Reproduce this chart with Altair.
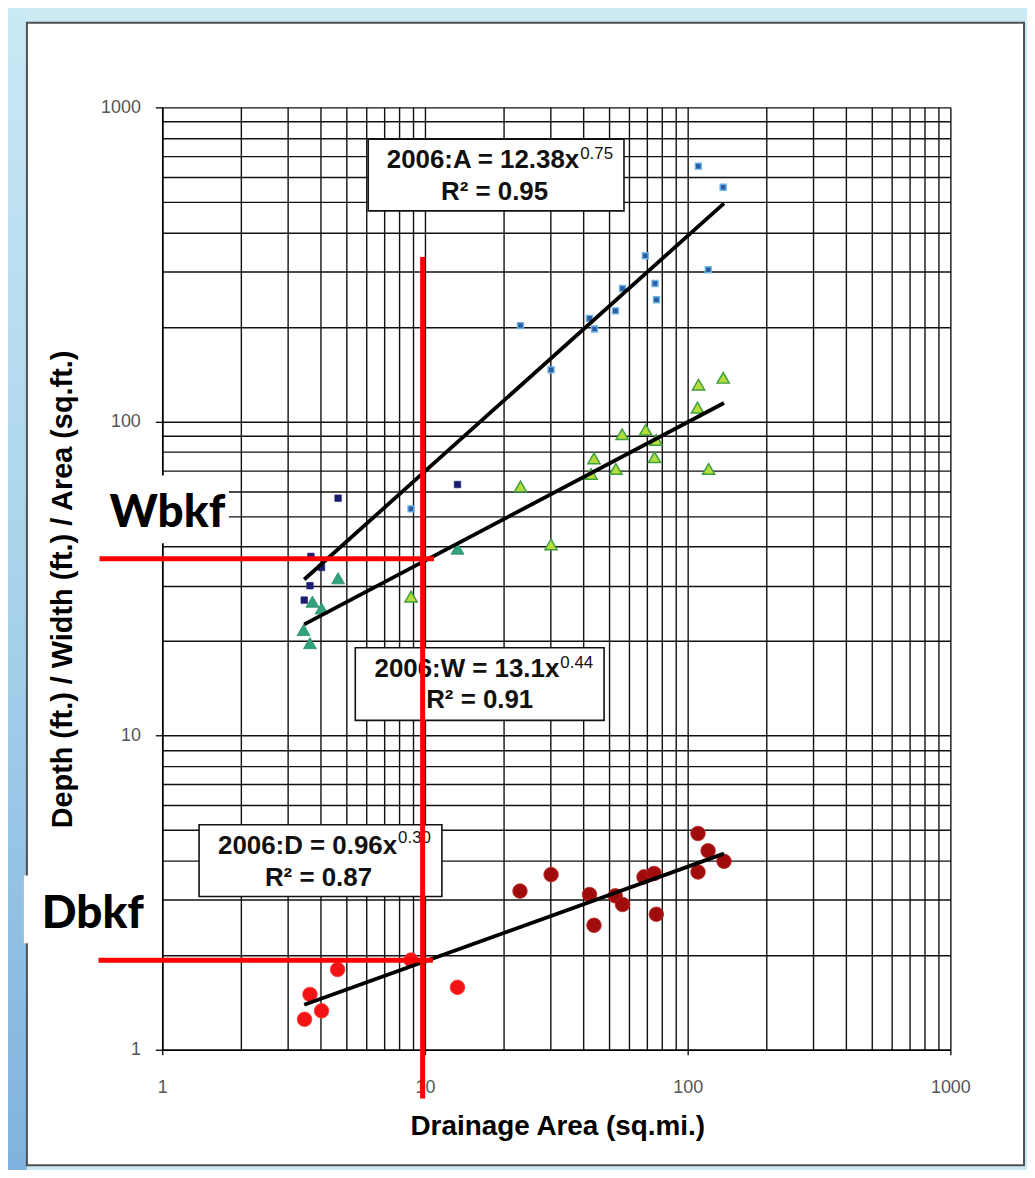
import altair as alt
import pandas as pd

# ---------------- data ----------------
grid_vals = [1, 2, 3, 4, 5, 6, 7, 8, 9, 10, 20, 30, 40, 50, 60, 70, 80, 90,
             100, 200, 300, 400, 500, 600, 700, 800, 900, 1000]

# Area (sq.ft.) - squares
area_g1_x = [3.47, 3.65, 3.68, 4.04, 4.67, 13.3]
area_g1_y = [27.0, 30.0, 37.2, 34.3, 57.0, 63.0]
area_g2_x = [8.85, 23.1, 30.2, 42.3, 44.2, 53.1, 56.5, 69.0, 75.1, 76.1, 109.8, 119.8, 136.5]
area_g2_y = [52.7, 202, 146, 213, 197, 225, 265, 337, 275, 244, 650, 304, 557]

# Width (ft.) - triangles
width_g1_x = [3.45, 3.65, 3.73, 4.04, 4.67, 13.3]
width_g1_y = [21.7, 19.7, 26.7, 25.4, 31.7, 39.4]
width_g2_x = [8.85, 23.1, 30.2, 42.9, 44.0, 53.3, 56.3, 69.2, 74.8, 75.9, 109.0, 110.0, 120.2, 136.5]
width_g2_y = [27.7, 62.1, 40.6, 68.1, 76.3, 70.6, 91.1, 94.1, 76.9, 87.3, 110.7, 131, 70.6, 137.7]

# Depth (ft.) - circles
depth_g1_x = [3.48, 3.65, 4.04, 4.65, 8.85, 13.3]
depth_g1_y = [1.25, 1.50, 1.33, 1.80, 1.93, 1.58]
depth_g2_x = [23.0, 30.2, 42.3, 44.0, 53.0, 56.5, 68.2, 74.5, 76.0, 109.5, 109.5, 119.6, 137.5]
depth_g2_y = [3.20, 3.61, 3.12, 2.49, 3.09, 2.90, 3.55, 3.64, 2.70, 4.88, 3.68, 4.30, 3.98]

# power-law trend lines (end points)
trend_x = [3.47, 137.5]
area_fit = [31.4, 495]
width_fit = [22.6, 114.5]
depth_fit = [1.39, 4.21]

# equation boxes
eq_main = ["2006:A = 12.38x", "2006:W = 13.1x", "2006:D = 0.96x"]
eq_exp = ["0.75", "0.44", "0.30"]
r2_text = ["R² = 0.95", "R² = 0.91", "R² = 0.87"]
eq_anchor_x = [38.65, 32.46, 7.832]
eq_base_y = [641.0, 15.41, 4.208]
eq_exp_y = [684.3, 16.46, 4.560]
r2_x = [18.41, 16.16, 3.933]
r2_y = [507.5, 12.21, 3.332]
box_x = [6.082, 5.430, 1.381]
box_x2 = [57.23, 48.06, 11.60]
box_y = [468.4, 11.18, 3.074]
box_y2 = [791.7, 19.05, 5.200]

# red reading lines (at drainage area ~10 sq.mi.)
red_x = [0.577, 0.572, 9.8]
red_x2 = [10.82, 10.72, 9.8]
red_y = [36.59, 1.928, 0.6994]
red_y2 = [36.59, 1.928, 333.7]

# Wbkf / Dbkf labels
lab_text = ["Wbkf", "Dbkf"]
lab_x = [0.6302, 0.3479]
lab_y = [46.04, 2.435]
lab_bx = [0.577, 0.2975]
lab_bx2 = [1.7935, 0.949]
lab_by = [40.97, 2.183]
lab_by2 = [67.28, 3.584]

# page decoration (frame and blue margins), in data units
frame_x, frame_x2, frame_y, frame_y2 = 0.3054, 1907, 0.429, 1859

# ---------------- scales / axes ----------------
FONT = "Liberation Sans"
major_test = "indexof([1,10,100,1000], datum.value) >= 0"
xs = alt.Scale(type="log", domain=[1, 1000], nice=False)
ys = alt.Scale(type="log", domain=[1, 1000], nice=False)

common_axis = dict(
    values=grid_vals, grid=True, gridColor="#111111", gridWidth=1.4,
    domain=True, domainColor="#000000", domainWidth=1.6,
    ticks=True, tickWidth=1.3,
    tickColor={"condition": {"test": major_test, "value": "#000000"}, "value": "transparent"},
    labelExpr=f"{major_test} ? '' + datum.value : ''",
    labelFont=FONT, labelFontSize=18, labelColor="#555555",
    labelOverlap=False, labelFlush=False, labelBound=False,
    titleFont=FONT, titleFontWeight="bold", titleColor="#000000",
    titleBaseline="alphabetic", titleAlign="center",
)
xaxis = alt.Axis(title="Drainage Area (sq.mi.)", tickSize=5, labelPadding=38,
                 labelBaseline="alphabetic", titleFontSize=28, titleX=397, titleY=85,
                 **common_axis)
yaxis = alt.Axis(title="Depth (ft.) / Width (ft.) / Area (sq.ft.)", tickSize=7,
                 labelPadding=15, labelBaseline="middle", labelAlign="right",
                 titleFontSize=29, titleAngle=270, titleX=-91, titleY=484,
                 **common_axis)

X = alt.X("x:Q", scale=xs, axis=xaxis)
Y = alt.Y("y:Q", scale=ys, axis=yaxis)
X2 = alt.X2("x2:Q")
Y2 = alt.Y2("y2:Q")


def rects(x, x2, y, y2):
    return pd.DataFrame({"x": x, "x2": x2, "y": y, "y2": y2})


layers = []

# blue page margins
grad = alt.Gradient(gradient="linear", x1=0, x2=0, y1=0, y2=1,
                    stops=[alt.GradientStop(color="#cbebf6", offset=0),
                           alt.GradientStop(color="#a9d3ec", offset=0.5),
                           alt.GradientStop(color="#7cb0dd", offset=1)])
layers.append(alt.Chart(rects([0.2], [frame_x], [0.3], [3000])).mark_rect(color=grad)
              .encode(x=X, x2=X2, y=Y, y2=Y2))
layers.append(alt.Chart(rects([frame_x, frame_x2, frame_x],
                              [3000, 3000, frame_x2],
                              [frame_y2, 0.3, 0.3],
                              [3000, frame_y2, frame_y]))
              .mark_rect(color="#cde9f4").encode(x=X, x2=X2, y=Y, y2=Y2))
# frame
layers.append(alt.Chart(rects([frame_x], [frame_x2], [frame_y], [frame_y2]))
              .mark_rect(filled=False, stroke="#505050", strokeWidth=2)
              .encode(x=X, x2=X2, y=Y, y2=Y2))


def pts(xv, yv, shape, size, fill, stroke, sw):
    df = pd.DataFrame({"x": xv, "y": yv})
    return alt.Chart(df).mark_point(shape=shape, size=size, filled=True, fill=fill,
                                    stroke=stroke, strokeWidth=sw, opacity=1,
                                    fillOpacity=1, strokeOpacity=1).encode(x=X, y=Y)


layers += [
    pts(area_g1_x, area_g1_y, "square", 42, "#1b1b6e", "#2a2a80", 0.8),
    pts(area_g2_x, area_g2_y, "square", 36, "#2a5da3", "#6fb4e2", 1.4),
    pts(width_g1_x, width_g1_y, "triangle-up", 170, "#33a07e", "#2a8f6e", 0.8),
    pts(width_g2_x, width_g2_y, "triangle-up", 150, "#b4dc3a", "#3f9f40", 1.5),
    pts(depth_g1_x, depth_g1_y, "circle", 215, "#f21414", "#ff3a3a", 0.8),
    pts(depth_g2_x, depth_g2_y, "circle", 215, "#a00c0c", "#bb2a2a", 0.8),
]

# trend lines
for fit in (area_fit, width_fit, depth_fit):
    layers.append(alt.Chart(pd.DataFrame({"x": trend_x, "y": fit}))
                  .mark_line(color="#000000", strokeWidth=3.8).encode(x=X, y=Y))

# equation boxes
layers.append(alt.Chart(rects(box_x, box_x2, box_y, box_y2))
              .mark_rect(fill="#ffffff", stroke="#111111", strokeWidth=1.6)
              .encode(x=X, x2=X2, y=Y, y2=Y2))
layers.append(alt.Chart(pd.DataFrame({"x": eq_anchor_x, "y": eq_base_y, "t": eq_main}))
              .mark_text(align="right", baseline="alphabetic", font=FONT, fontSize=26,
                         fontWeight="bold", color="#111111")
              .encode(x=X, y=Y, text="t:N"))
layers.append(alt.Chart(pd.DataFrame({"x": eq_anchor_x, "y": eq_exp_y, "t": eq_exp}))
              .mark_text(align="left", baseline="alphabetic", font=FONT, fontSize=17,
                         dx=1, color="#111111")
              .encode(x=X, y=Y, text="t:N"))
layers.append(alt.Chart(pd.DataFrame({"x": r2_x, "y": r2_y, "t": r2_text}))
              .mark_text(align="center", baseline="alphabetic", font=FONT, fontSize=26,
                         fontWeight="bold", color="#111111")
              .encode(x=X, y=Y, text="t:N"))

# red reading lines
layers.append(alt.Chart(rects(red_x, red_x2, red_y, red_y2))
              .mark_rule(color="#ff0000", strokeWidth=5)
              .encode(x=X, x2=X2, y=Y, y2=Y2))

# Wbkf / Dbkf labels on white patches
layers.append(alt.Chart(rects(lab_bx, lab_bx2, lab_by, lab_by2))
              .mark_rect(color="#ffffff").encode(x=X, x2=X2, y=Y, y2=Y2))
layers.append(alt.Chart(pd.DataFrame({"x": lab_x, "y": lab_y, "t": lab_text}))
              .mark_text(align="left", baseline="alphabetic", font="Lato", fontSize=46,
                         fontWeight=900, color="#000000")
              .encode(x=X, y=Y, text="t:N"))

chart = alt.layer(*layers).properties(
    width=792, height=947,
    autosize=alt.AutoSizeParams(type="none"),
    padding={"left": 155, "top": 97, "right": 77, "bottom": 118},
    background="#ffffff",
).configure_view(strokeWidth=0)

chart.save("out.html", embed_options={"renderer": "svg", "actions": False})
